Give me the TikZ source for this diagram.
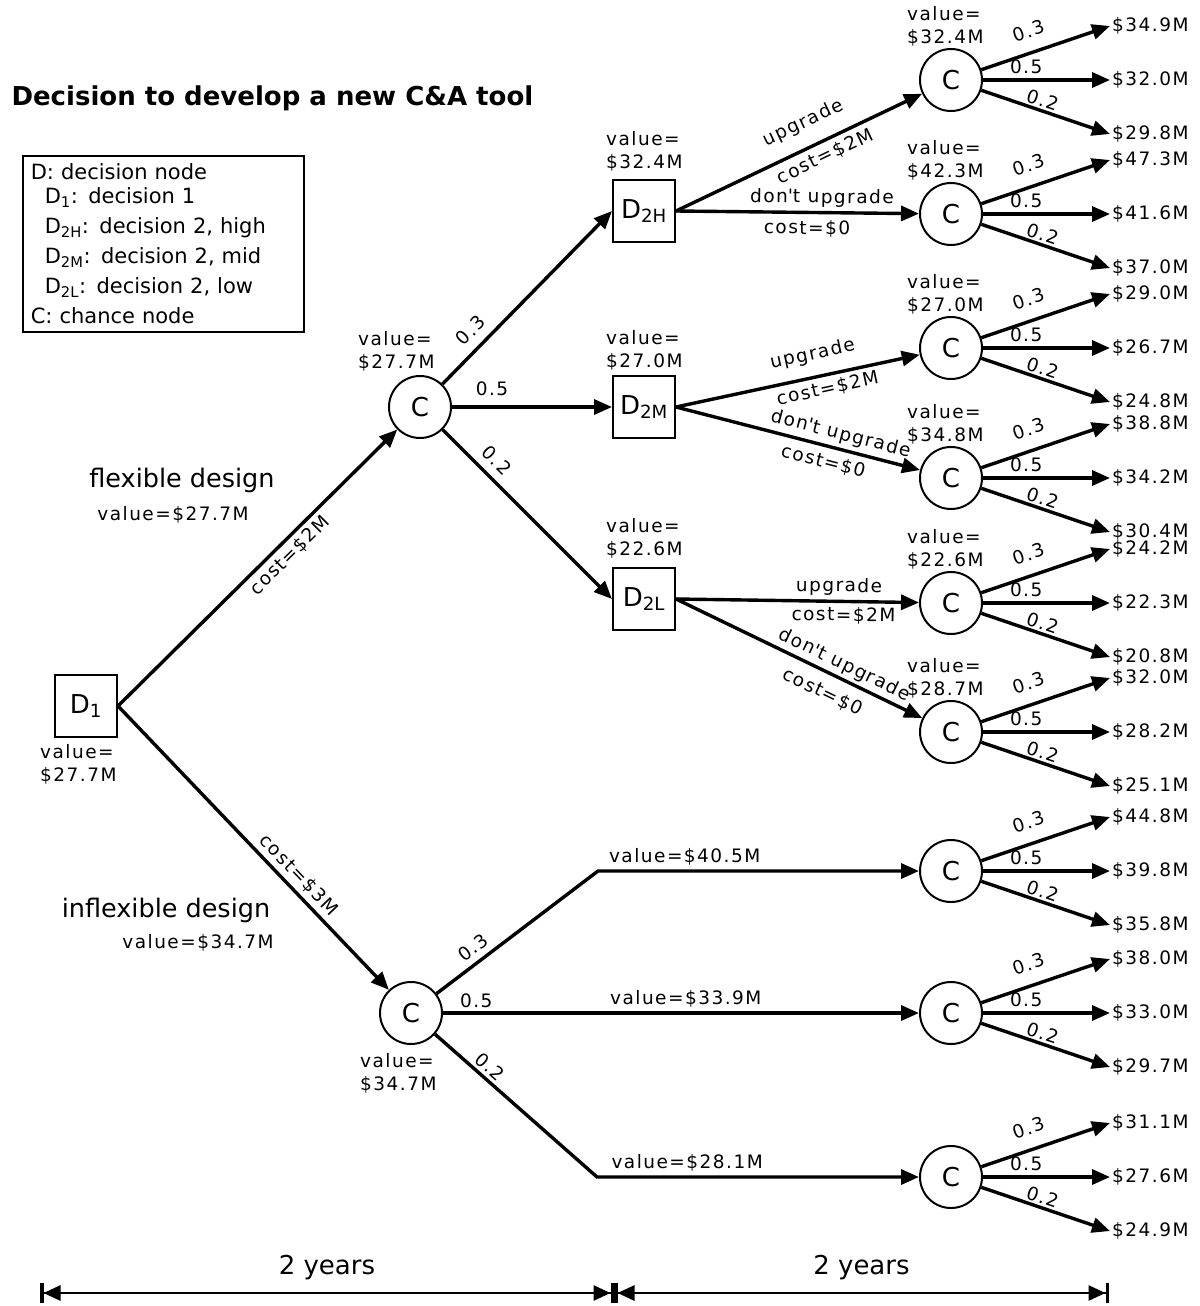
\documentclass[tikz,border=0pt]{standalone}
\usepackage{fontspec}
\setmainfont{DejaVu Sans}
\newfontfamily\spacedfont[LetterSpace=8]{DejaVu Sans}
\usetikzlibrary{arrows.meta}
\newcommand\valsize{\spacedfont\fontsize{18.5}{23}\selectfont}

\begin{document}
\begin{tikzpicture}[x=1pt,y=-1pt,
  dbox/.style={draw, line width=2pt, minimum width=62pt, minimum height=62pt, inner sep=0pt, font=\fontsize{26}{28}\selectfont},
  cnode/.style={draw, circle, line width=2pt, minimum size=62pt, inner sep=0pt, font=\fontsize{26}{28}\selectfont},
  branch/.style={line width=3.4pt, -{Triangle[length=18pt,width=15pt]}},
  val/.style={font=\valsize, align=left, inner sep=0pt},
  lab/.style={font=\valsize, sloped, inner sep=4pt},
  pay/.style={font=\valsize, anchor=west, inner sep=2pt},
  big/.style={font=\fontsize{25.5}{28}\selectfont},
  keybox/.style={draw, line width=1.6pt, anchor=north west, text width=265pt, minimum height=176pt, inner xsep=8pt, align=left, font=\fontsize{21}{30}\selectfont},
  span/.style={line width=2.8pt, {Bar[width=20pt,line width=3.5pt]Triangle[length=17pt,width=15pt]}-{Triangle[length=17pt,width=15pt]Bar[width=20pt,line width=3.5pt]}}
]
  \path[use as bounding box] (0,0) rectangle (1199,1306);
  \fill[white] (0,0) rectangle (1199,1306);

  \node[anchor=base west, font=\bfseries\fontsize{26}{30}\selectfont] (title) at (8,105) {Decision to develop a new C\&A tool};

  \node[keybox] (key) at (22,155) {D: decision node\\[-6pt]
    \hspace*{14pt}D\textsubscript{1}: decision 1\\
    \hspace*{14pt}D\textsubscript{2H}: decision 2, high\\
    \hspace*{14pt}D\textsubscript{2M}: decision 2, mid\\
    \hspace*{14pt}D\textsubscript{2L}: decision 2, low\\
    C: chance node};

  \node[dbox] (d1) at (86,706) {D\textsubscript{1}};
  \node[cnode] (c1) at (420,407) {C};
  \node[cnode] (cin) at (411,1013) {C};
  \node[dbox] (d2h) at (644,211) {D\textsubscript{2H}};
  \node[dbox] (d2m) at (644,407) {D\textsubscript{2M}};
  \node[dbox] (d2l) at (644,599) {D\textsubscript{2L}};
  \coordinate (up) at (598,871);
  \coordinate (dn) at (597,1177);

  \foreach \n/\y/\pa/\pb/\pc in {hu/80/34.9/32.0/29.8, hn/214/47.3/41.6/37.0, mu/348/29.0/26.7/24.8,
      mn/478/38.8/34.2/30.4, lu/603/24.2/22.3/20.8, ln/732/32.0/28.2/25.1,
      ia/871/44.8/39.8/35.8, ib/1013/38.0/33.0/29.7, ic/1177/31.1/27.6/24.9}{
    \node[cnode] (c\n) at (951,\y) {C};
    \node[pay] (p\n1) at (1110,\y-54) {\$\pa M};
    \node[pay] (p\n2) at (1110,\y) {\$\pb M};
    \node[pay] (p\n3) at (1110,\y+54) {\$\pc M};
    \draw[branch] (c\n) -- node[lab, above=9pt, pos=0.42] {0.3} (p\n1.west);
    \draw[branch] (c\n) -- node[lab, above=1pt, pos=0.34] {0.5} (p\n2.west);
    \draw[branch] (c\n) -- node[lab, above=-2pt, pos=0.45] {0.2} (p\n3.west);
  }

  \foreach \n/\v in {hu/32.4, hn/42.3, mu/27.0, mn/34.8, lu/22.6, ln/28.7}
    \node[val, anchor=south west] at ([shift={(-44,-34)}]c\n) {value=\\\$\v M};

  \node[val, anchor=north west] at (40,744) {value=\\\$27.7M};
  \node[val, anchor=south west] at (358,371) {value=\\\$27.7M};
  \node[val, anchor=south west] at (606,171) {value=\\\$32.4M};
  \node[val, anchor=south west] at (606,370) {value=\\\$27.0M};
  \node[val, anchor=south west] at (606,558) {value=\\\$22.6M};
  \node[val, anchor=north west] at (360,1053) {value=\\\$34.7M};

  \draw[branch] (d1.east) -- node[lab, below, pos=0.58] {cost=\$2M} (c1);
  \draw[branch] (d1.east) -- node[lab, above, pos=0.63] {cost=\$3M} (cin);

  \draw[branch] (c1) -- node[lab, above=5pt, pos=0.24] {0.3} (d2h.west);
  \draw[branch] (c1) -- node[lab, above=6pt, pos=0.25] {0.5} (d2m);
  \draw[branch] (c1) -- node[lab, above=4pt, pos=0.25] {0.2} (d2l.west);

  \draw[branch] (d2h.east) -- node[lab, above=10pt, pos=0.56] {upgrade} node[lab, below=1pt, pos=0.58] {cost=\$2M} (chu);
  \draw[branch] (d2h.east) -- node[lab, above, pos=0.6] {don\textquotesingle t upgrade} node[lab, below=2pt, pos=0.54] {cost=\$0} (chn);
  \draw[branch] (d2m.east) -- node[lab, above=8pt, pos=0.58] {upgrade} node[lab, below, pos=0.61] {cost=\$2M} (cmu);
  \draw[branch] (d2m.east) -- node[lab, above, pos=0.66] {don\textquotesingle t upgrade} node[lab, below=2pt, pos=0.62] {cost=\$0} (cmn);
  \draw[branch] (d2l.east) -- node[lab, above, pos=0.67] {upgrade} node[lab, below, pos=0.69] {cost=\$2M} (clu);
  \draw[branch] (d2l.east) -- node[lab, above=-1pt, pos=0.66] {don\textquotesingle t upgrade} node[lab, below=6pt, pos=0.63] {cost=\$0} (cln);

  \draw[branch] (cin) -- node[lab, above=2pt, pos=0.28] {0.3} (up) -- node[lab, above, pos=0.27] {value=\$40.5M} (cia);
  \draw[branch] (cin) -- node[lab, above, pos=0.07] {0.5} node[lab, above, pos=0.51] {value=\$33.9M} (cib);
  \draw[branch] (cin) -- node[lab, above=-1pt, pos=0.29] {0.2} (dn) -- node[lab, above, pos=0.28] {value=\$28.1M} (cic);

  \node[big] (flex) at (182,480) {flexible design};
  \node[val] (flexval) at (173,515) {value=\$27.7M};
  \node[big] (inflex) at (166,910) {inflexible design};
  \node[val] (inflexval) at (198,943) {value=\$34.7M};

  \coordinate (t0) at (40,1293);
  \coordinate (t1) at (614,1293);
  \coordinate (t2) at (1109,1293);
  \draw[span] (t0) -- node[above=8pt, font=\fontsize{26}{30}\selectfont] {2 years} (t1);
  \draw[span] (t1) -- node[above=8pt, font=\fontsize{26}{30}\selectfont] {2 years} (t2);
\end{tikzpicture}
\end{document}
